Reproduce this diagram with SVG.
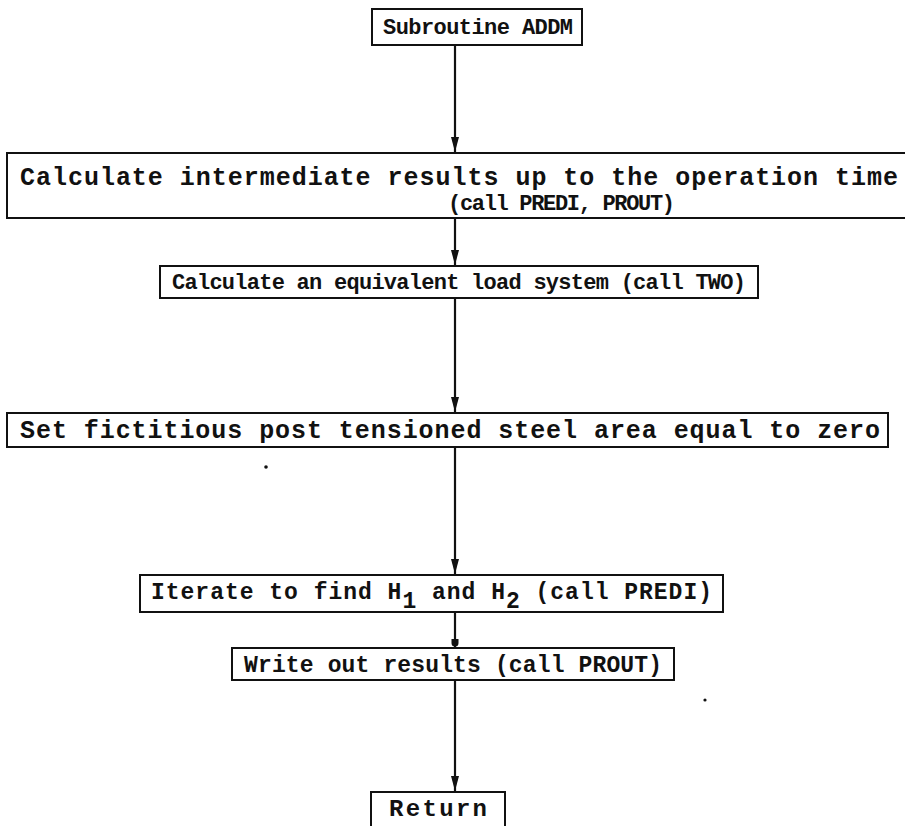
<svg xmlns="http://www.w3.org/2000/svg" width="905" height="826" viewBox="0 0 905 826">
<style>
.box{fill:#fff;stroke:#111;stroke-width:2}
.t{font-family:"Liberation Mono","DejaVu Sans Mono",monospace;font-weight:bold;fill:#111}
.c{stroke:#111;stroke-width:2.2;fill:none}
.ah{fill:#111}
</style>
<rect width="905" height="826" fill="#fff"/>
<g id="connectors">
<line class="c" x1="455" y1="45" x2="455" y2="152"/>
<path class="ah" d="M451,137 L459,137 L455,152 Z"/>
<line class="c" x1="455" y1="218" x2="455" y2="265"/>
<path class="ah" d="M451,250 L459,250 L455,265 Z"/>
<line class="c" x1="455" y1="298" x2="455" y2="412"/>
<path class="ah" d="M451,397 L459,397 L455,412 Z"/>
<line class="c" x1="455" y1="447" x2="455" y2="574"/>
<path class="ah" d="M451,559 L459,559 L455,574 Z"/>
<line class="c" x1="455" y1="612" x2="455" y2="647"/>
<path class="ah" d="M451.5,639 L458.5,639 L458.5,643 A3.5,3.5 0 0 1 451.5,643 Z"/>
<line class="c" x1="455" y1="680" x2="455" y2="791"/>
<path class="ah" d="M451,776 L459,776 L455,791 Z"/>
</g>
<g id="n1"><rect class="box" x="372" y="9" width="210" height="36"/>
<text class="t" x="383" y="34" style="font-size:22px" textLength="190" lengthAdjust="spacing">Subroutine ADDM</text></g>
<g id="n2"><rect class="box" x="7" y="153" width="905" height="65"/>
<text class="t" x="20" y="185" style="font-size:25px" textLength="878" lengthAdjust="spacing">Calculate intermediate results up to the operation time</text>
<text class="t" x="448" y="210" style="font-size:22px" textLength="227" lengthAdjust="spacing">(call PREDI, PROUT)</text></g>
<g id="n3"><rect class="box" x="160" y="266" width="598" height="32"/>
<text class="t" x="172" y="289" style="font-size:22px" textLength="574" lengthAdjust="spacing">Calculate an equivalent load system (call TWO)</text></g>
<g id="n4"><rect class="box" x="7" y="413" width="881" height="34"/>
<text class="t" x="20" y="438" style="font-size:25px" textLength="860" lengthAdjust="spacing">Set fictitious post tensioned steel area equal to zero</text></g>
<g id="n5"><rect class="box" x="140" y="575" width="583" height="37"/>
<text class="t" x="151" y="599" style="font-size:23px" textLength="561" lengthAdjust="spacing">Iterate to find H<tspan dy="9">1</tspan><tspan dy="-9"> and H</tspan><tspan dy="9">2</tspan><tspan dy="-9"> (call PREDI)</tspan></text></g>
<g id="n6"><rect class="box" x="232" y="648" width="442" height="32"/>
<text class="t" x="244" y="672" style="font-size:23px" textLength="418" lengthAdjust="spacing">Write out results (call PROUT)</text></g>
<g id="n7"><rect class="box" x="371" y="792" width="134" height="44"/>
<text class="t" x="389" y="816" style="font-size:24px" textLength="98" lengthAdjust="spacing">Return</text></g>
<circle cx="266" cy="467" r="1.8" fill="#111"/>
<circle cx="705" cy="700" r="1.6" fill="#111"/>
</svg>
